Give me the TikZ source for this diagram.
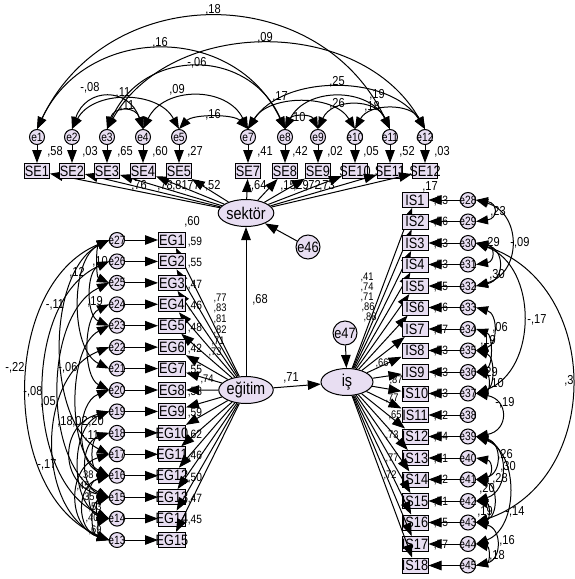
\documentclass[tikz,border=0pt]{standalone}
\usepackage{fontspec}
\setmainfont{Liberation Sans}[FakeStretch=0.85]
\usetikzlibrary{arrows.meta,shapes.geometric}
\definecolor{lav}{RGB}{232,222,242}
\tikzset{
  lw/.style={line width=1pt},
  arr/.style={lw,-{Triangle[length=13pt,width=9.5pt]}},
  cov/.style={lw,{Triangle[length=12pt,width=9pt]}-{Triangle[length=12pt,width=9pt]}},
  obs/.style={rectangle,draw,lw,fill=lav,minimum width=26pt,minimum height=15pt,inner sep=0pt,font=\fontsize{15}{15}\selectfont},
  err/.style={circle,draw,lw,fill=lav,minimum size=15pt,inner sep=0pt,font=\fontsize{12}{12}\selectfont},
  bigerr/.style={err,minimum size=24pt,font=\fontsize{15}{15}\selectfont},
  lat/.style={ellipse,draw,lw,fill=lav,minimum width=52pt,minimum height=27pt,inner sep=0pt,font=\fontsize{17}{17}\selectfont},
  lab/.style={inner sep=0pt,font=\fontsize{13}{13}\selectfont},
  slab/.style={inner sep=0pt,font=\fontsize{12}{12}\selectfont},
  xlab/.style={inner sep=0pt,font=\fontsize{11}{11}\selectfont},
}
\begin{document}
\begin{tikzpicture}[x=1pt,y=-1pt]
\useasboundingbox (0,0) rectangle (575,579);
% latent variables
\node[lat] (sektor) at (246,213) {sektör};
\node[lat] (egitim) at (246,390) {eğitim};
\node[lat] (is) at (347,382) {iş};
\node[bigerr] (e46) at (308,247) {\makebox[0pt]{e46}};
\node[bigerr] (e47) at (345,333) {\makebox[0pt]{e47}};
% top indicators
\foreach \n/\x in {1/37,2/72,3/107,4/143,5/179,7/248,8/285,9/318,10/355,11/390,12/425} {
  \node[err] (e\n) at (\x,137) {\makebox[0pt]{e\n}};
  \node[obs,minimum width=25pt] (SE\n) at (\x,171) {\makebox[0pt]{SE\n}};
  \draw[arr] (e\n) -- (SE\n);
  \draw[arr] (sektor) -- (SE\n);
}
% left indicators
\foreach \k in {1,...,15} {
  \pgfmathsetmacro\yy{240+21.43*(\k-1)}
  \pgfmathtruncatemacro\ee{28-\k}
  \node[obs,minimum width=27pt] (EG\k) at (172,\yy) {\makebox[0pt]{EG\k}};
  \node[err] (e\ee) at (117,\yy) {\makebox[0pt]{e\ee}};
  \draw[arr] (e\ee) -- (EG\k);
  \draw[arr] (egitim) -- (EG\k);
}
% right indicators
\foreach \k in {1,...,18} {
  \pgfmathsetmacro\yy{200+21.5*(\k-1)}
  \pgfmathtruncatemacro\ee{27+\k}
  \node[obs] (IS\k) at (415,\yy) {\makebox[0pt]{IS\k}};
  \node[err] (e\ee) at (468,\yy) {\makebox[0pt]{e\ee}};
  \draw[arr] (e\ee) -- (IS\k);
  \draw[arr] (is) -- (IS\k);
}
% structural paths
\draw[arr] (egitim) -- (sektor);
\draw[arr] (egitim) -- (is);
\draw[arr] (e46) -- (sektor);
\draw[arr] (e47) -- (is);
% top covariances
\foreach \a/\b/\dx/\h in {1/11/71/149, 1/8/50/106, 3/12/64/113, 3/8/36/82, 2/4/14/42, 4/7/21/43, 3/4/7/23, 2/5/21/39, 5/7/14/15, 7/12/35/55, 7/10/21/35, 8/9/7/15, 9/11/14/31, 10/12/14/26, 8/11/21/42} {
  \draw[cov] (e\a.north) .. controls +(\dx,-\h) and +(-\dx,-\h) .. (e\b.north);
}
% left covariances
\foreach \a/\b/\d/\s in {27/13/109/45, 26/14/86/39, 25/15/66/32, 23/16/42/22, 27/21/39/19, 27/17/63/32, 27/25/13/6, 26/23/23/10, 20/16/33/13, 19/15/50/13, 19/14/39/16, 18/16/19/6, 18/15/29/10, 22/13/73/29, 16/14/23/6, 16/13/33/10, 15/13/19/6, 15/14/13/3, 14/13/11/3, 17/13/42/13, 24/20/26/13} {
  \draw[cov] (e\a.west) .. controls +(-\d,\s) and +(-\d,-\s) .. (e\b.west);
}
% right covariances
\foreach \a/\b/\d/\s in {28/29/22/3, 28/32/46/13, 30/31/19/3, 30/32/29/6, 30/37/62/23, 30/43/127/42, 33/35/22/6, 34/36/17/6, 35/37/19/6, 36/37/14/3, 37/39/33/6, 39/41/26/6, 39/42/33/10, 40/41/17/3, 41/43/22/6, 42/43/14/3, 39/44/43/16, 43/45/26/6, 44/45/14/3} {
  \draw[cov] (e\a.east) .. controls +(\d,\s) and +(\d,-\s) .. (e\b.east);
}
% top labels
\foreach \t/\x/\y [count=\i] in {{,18}/213/10, {,16}/160/43, {,09}/265/38, {-,06}/197/63, {-,08}/90/88, {,09}/177/90, {,11}/123/93, {,11}/127/106, {,16}/213/115, {,25}/337/82, {,17}/280/97, {-,10}/296/118, {,26}/337/104, {,18}/372/107, {,19}/377/95} {
  \node[lab] (tl\i) at (\x,\y) {\t};
}
\foreach \t/\x [count=\i] in {{,58}/55, {,03}/90, {,65}/125, {,60}/160, {,27}/195, {,41}/265, {,42}/300, {,02}/335, {,05}/371, {,52}/407, {,03}/442} {
  \node[lab] (rs\i) at (\x,152) {\t};
}
\foreach \t/\x/\y [count=\i] in {{,76}/139/186, {,78}/165/186, {,81}/180/186, {,77}/192/186, {-,52}/211/186, {-,64}/257/186, {,15}/288/186, {,29}/301/186, {,72}/313/186, {,73}/327/186, {,17}/430/187} {
  \node[lab] (sl\i) at (\x,\y) {\t};
}
% structural labels
\node[lab] (l68) at (260,300) {,68};
\node[lab] (l71) at (291,378) {,71};
% eğitim labels
\node[lab] (eg0) at (192,222) {,60};
\foreach \t [count=\i] in {{,59},{,55},{,47},{,46},{,48},{,42},{,55},{,58},{,59},{,62},{,46},{,50},{,47},{,45}} {
  \pgfmathsetmacro\yy{242+21.43*(\i-1)}
  \node[slab] (egr\i) at (195,\yy) {\t};
}
\foreach \t/\x/\y [count=\i] in {{,77}/220/298, {,83}/220/308, {,81}/220/319, {,82}/220/330, {,71}/218/341, {,73}/215/352, {,74}/207/379} {
  \node[xlab] (egl\i) at (\x,\y) {\t};
}
% iş labels
\foreach \t [count=\i] in {{,53},{,56},{,53},{,53},{,55},{,46},{,57},{,53},{,53},{,53},{,42},{,54},{,51},{,42},{,51},{,45},{,57}} {
  \pgfmathsetmacro\yy{201+21.5*(\i-1)}
  \node[slab] (isr\i) at (441,\yy) {\t};
}
\foreach \t/\x/\y [count=\i] in {{,41}/367/277, {,74}/367/287, {,71}/367/297, {,86}/368/307, {,88}/370/317, {,66}/382/363, {,87}/396/380, {,77}/392/398, {,65}/395/415, {,73}/392/435, {,77}/392/458, {,72}/390/475} {
  \node[xlab] (isl\i) at (\x,\y) {\t};
}
% left covariance labels
\foreach \t/\x/\y [count=\i] in {{,12}/77/273, {,10}/100/262, {,19}/95/302, {-,11}/55/305, {-,22}/15/368, {-,06}/68/368, {-,08}/33/392, {,05}/48/402, {,18}/65/422, {,02}/80/422, {,20}/96/422, {-,11}/90/436, {-,17}/47/465} {
  \node[lab] (ll\i) at (\x,\y) {\t};
}
\foreach \t/\x/\y [count=\i] in {{,38}/87/475, {,45}/83/486, {,35}/88/497, {,53}/95/507, {,40}/92/518, {,69}/95/530} {
  \node[xlab] (lm\i) at (\x,\y) {\t};
}
% right covariance labels
\foreach \t/\x/\y [count=\i] in {{,23}/498/212, {-,09}/520/243, {,29}/492/243, {,30}/497/275, {-,17}/537/320, {,3}/569/381, {,06}/500/328, {,19}/488/341, {,29}/490/373, {,10}/496/384, {-,19}/505/403, {,26}/505/455, {,30}/508/467, {,28}/500/479, {,20}/487/489, {,19}/485/512, {-,14}/515/512, {,16}/507/541, {,18}/497/556} {
  \node[lab] (rl\i) at (\x,\y) {\t};
}
\end{tikzpicture}
\end{document}
